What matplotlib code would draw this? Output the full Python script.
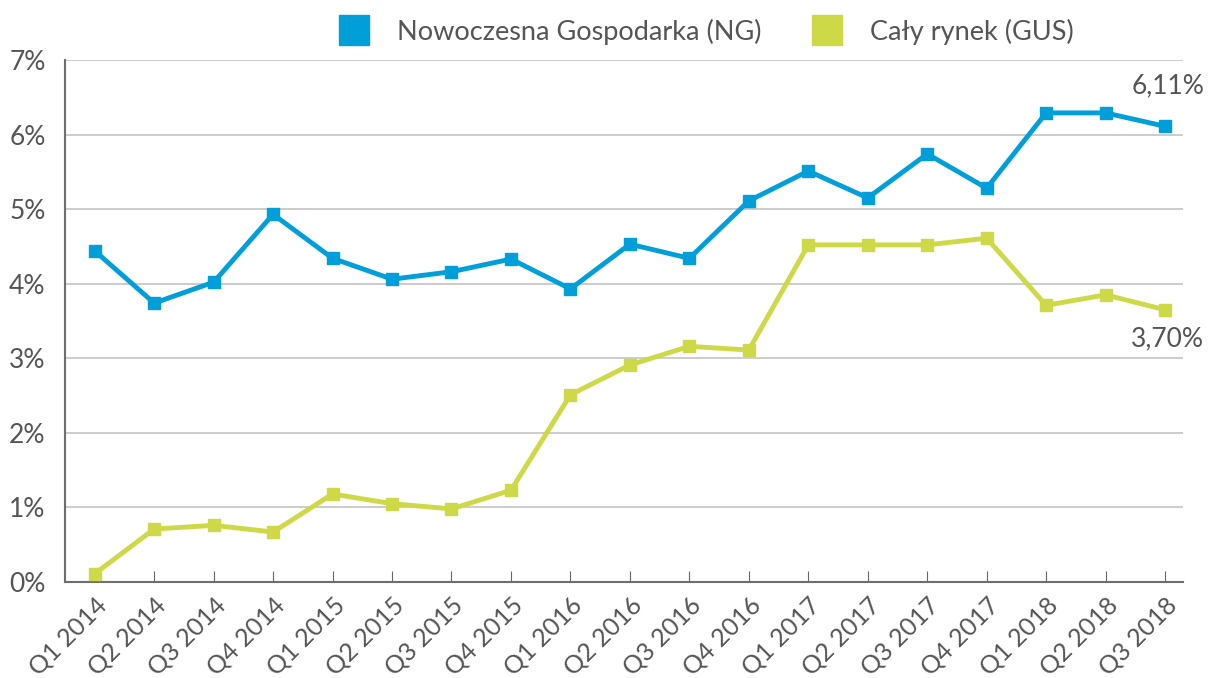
import matplotlib.pyplot as plt
from matplotlib.lines import Line2D

quarters = ["Q1 2014", "Q2 2014", "Q3 2014", "Q4 2014", "Q1 2015", "Q2 2015",
            "Q3 2015", "Q4 2015", "Q1 2016", "Q2 2016", "Q3 2016", "Q4 2016",
            "Q1 2017", "Q2 2017", "Q3 2017", "Q4 2017", "Q1 2018", "Q2 2018",
            "Q3 2018"]
ng = [4.44, 3.74, 4.02, 4.93, 4.34, 4.06, 4.16, 4.33, 3.93, 4.53, 4.34, 5.11,
      5.51, 5.15, 5.74, 5.28, 6.29, 6.29, 6.11]
gus = [0.11, 0.71, 0.76, 0.67, 1.18, 1.05, 0.98, 1.23, 2.51, 2.91, 3.16, 3.11,
       4.52, 4.52, 4.52, 4.61, 3.71, 3.85, 3.65]
labels = ["Nowoczesna Gospodarka (NG)", "Cały rynek (GUS)"]

blue = "#009fda"
green = "#cdd946"
txt = "#555555"

plt.rcParams['font.family'] = ['Lato', 'DejaVu Sans']

fig = plt.figure(figsize=(12.12, 6.78), dpi=100)
ax = fig.add_axes([0.0536, 0.1416, 0.9224, 0.77])

x = list(range(len(quarters)))
ax.plot(x, ng, color=blue, lw=3.5, marker='s', ms=8.5, zorder=3)
ax.plot(x, gus, color=green, lw=3.5, marker='s', ms=8.5, zorder=3)

ax.set_xlim(-0.5, 18.3)
ax.set_ylim(0, 7)
ax.set_yticks(range(8))
ax.set_yticklabels([f"{v}%" for v in range(8)], fontsize=19, color=txt)
ax.set_xticks(x)
ax.set_xticklabels(quarters, rotation=45, ha='right', rotation_mode='anchor',
                   fontsize=18, color=txt)
ax.tick_params(axis='x', direction='in', length=8, color='#666666', pad=8)
ax.tick_params(axis='y', length=0, pad=14)
ax.grid(axis='y', color='#c4c4c4', lw=1.2)
ax.set_axisbelow(True)
for s in ['top', 'right']:
    ax.spines[s].set_visible(False)
for s in ['left', 'bottom']:
    ax.spines[s].set_color('#6e6e6e')
    ax.spines[s].set_linewidth(1.5)

ax.annotate("6,11%", (x[-1], ng[-1]), xytext=(2, 20), textcoords='offset points',
            ha='center', va='bottom', fontsize=19, color=txt)
ax.annotate("3,70%", (x[-1], gus[-1]), xytext=(2, -12), textcoords='offset points',
            ha='center', va='top', fontsize=19, color=txt)

handles = [Line2D([], [], marker='s', ls='', color=blue, ms=21),
           Line2D([], [], marker='s', ls='', color=green, ms=21)]
fig.legend(handles, labels, loc='center', bbox_to_anchor=(0.578, 0.953), ncol=2,
           frameon=False, fontsize=19.5, labelcolor=txt, handletextpad=0.6,
           columnspacing=1.4)

fig.savefig("out.png", dpi=100)
